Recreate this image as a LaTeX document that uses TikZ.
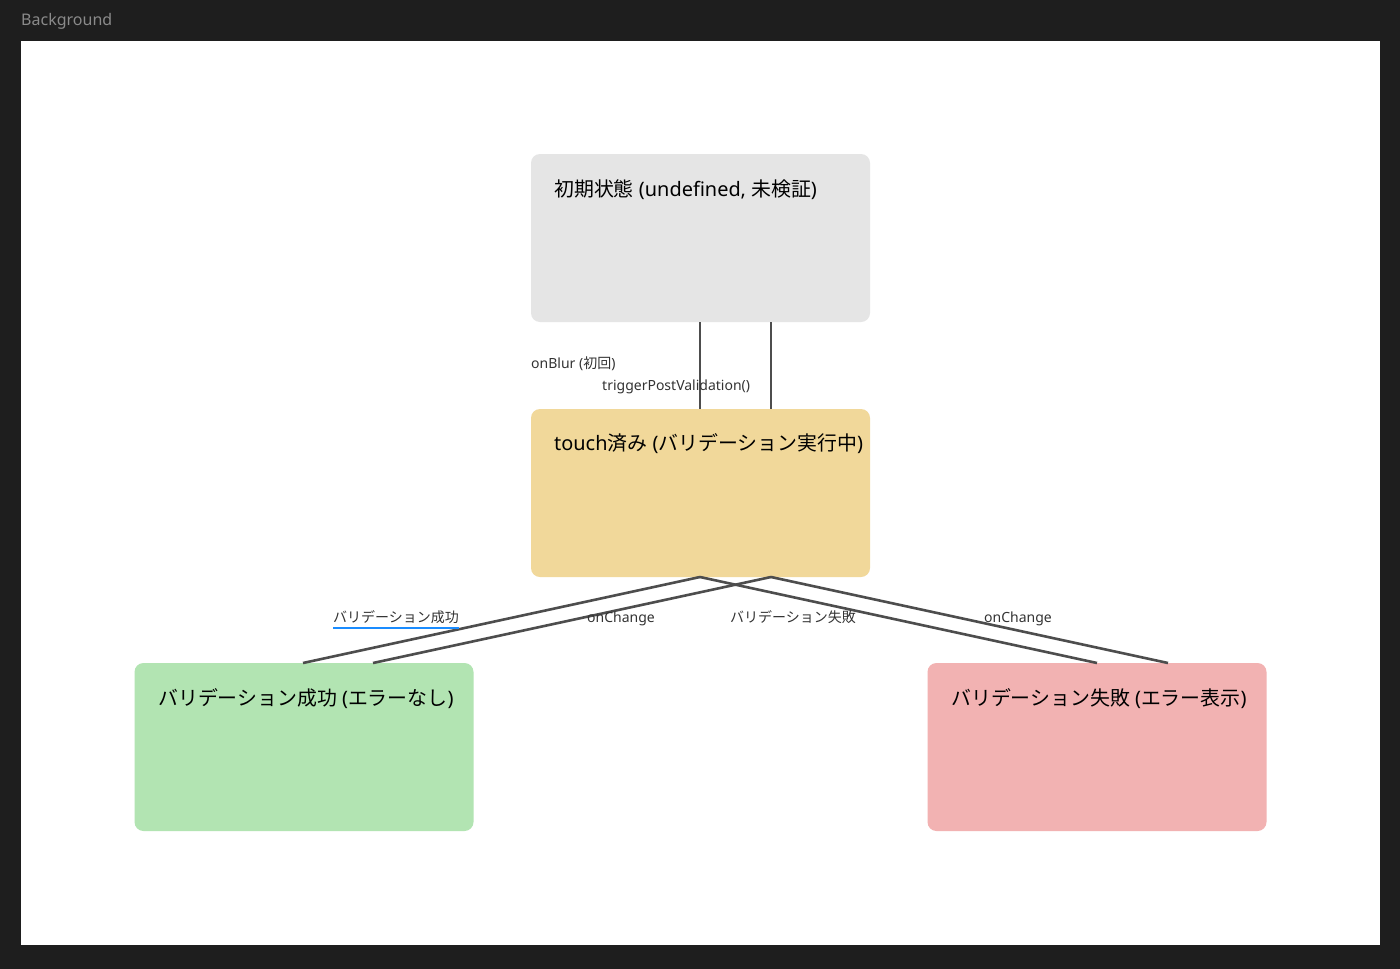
\documentclass[tikz,border=0pt]{standalone}
\usepackage{fontspec}
\setmainfont{Noto Sans}
\newfontfamily\jp{Noto Sans CJK JP}
\usetikzlibrary{calc}
\definecolor{frame}{HTML}{1E1E1E}
\definecolor{frametext}{HTML}{8A8A8A}
\definecolor{edgec}{HTML}{4D4D4D}
\definecolor{greyfill}{HTML}{E5E5E5}
\definecolor{yellowfill}{HTML}{F1D89A}
\definecolor{greenfill}{HTML}{B2E4B2}
\definecolor{redfill}{HTML}{F2B2B2}
\definecolor{linkblue}{HTML}{1A8CFF}
\definecolor{labeltext}{HTML}{333333}
\tikzset{
  statebox/.style={draw=none, rounded corners=9pt, minimum width=339pt, minimum height=168pt, inner sep=0pt, outer sep=0pt},
  statetext/.style={anchor=west, font=\fontsize{19.9}{22}\selectfont, text=black, inner sep=0pt},
  edgelabel/.style={anchor=west, font=\fontsize{14}{15}\selectfont, text=labeltext, inner sep=0pt},
  conn/.style={draw=edgec, line width=2.6pt},
}
\begin{document}
\begin{tikzpicture}[x=1pt,y=-1pt]
\useasboundingbox (0,0) rectangle (1400,969);
\fill[frame] (0,0) rectangle (1400,969);
\node[anchor=west, inner sep=0pt, text=frametext, font=\fontsize{16}{18}\selectfont] (bgtitle) at (21,21) {Background};
\fill[white] (21,41) rectangle (1380,945);

% states
\node[statebox, fill=greyfill] (init) at (700.5,238) {};
\node[statebox, fill=yellowfill] (touch) at (700.5,493) {};
\node[statebox, fill=greenfill] (ok) at (304,747) {};
\node[statebox, fill=redfill] (ng) at (1097,747) {};

\node[statetext] (initT) at (554,190) {{\jp 初期状態} (undefined, {\jp 未検証})};
\node[statetext] (touchT) at (554,444) {touch{\jp 済み} ({\jp バリデーション実行中})};
\node[statetext] (okT) at (158,699) {{\jp バリデーション成功} ({\jp エラーなし})};
\node[statetext] (ngT) at (951,699) {{\jp バリデーション失敗} ({\jp エラー表示})};

% anchor coordinates
\coordinate (initA) at ($(init.south)+(-0.5,0)$);
\coordinate (initB) at ($(init.south)+(70.5,0)$);
\coordinate (touchA) at ($(touch.north)+(-0.5,0)$);
\coordinate (touchB) at ($(touch.north)+(70.5,0)$);
\coordinate (touchC) at ($(touch.south)+(-0.5,0)$);
\coordinate (touchD) at ($(touch.south)+(70.5,0)$);
\coordinate (okA) at ($(ok.north)+(-1,0)$);
\coordinate (okB) at ($(ok.north)+(69,0)$);
\coordinate (ngA) at ($(ng.north)+(0,0)$);
\coordinate (ngB) at ($(ng.north)+(71,0)$);

% connectors
\draw[conn] (initA) -- (touchA);
\draw[conn] (initB) -- (touchB);
\draw[conn] (touchC) -- (okA);
\draw[conn] (touchD) -- (okB);
\draw[conn] (touchC) -- (ngA);
\draw[conn] (touchD) -- (ngB);

% labels
\node[edgelabel] (l1) at (531,364) {onBlur ({\jp 初回})};
\node[edgelabel] (l2) at (602,387) {triggerPostValidation()};
\node[edgelabel, font=\fontsize{14}{15}\jp] (l3) at (333,617.5) {バリデーション成功};
\draw[linkblue, line width=2.5pt] ($(l3.south west)+(0,3.5)$) -- ($(l3.south east)+(0,3.5)$);
\node[edgelabel] (l4) at (587,619) {onChange};
\node[edgelabel, font=\fontsize{14}{15}\jp] (l5) at (730,617.5) {バリデーション失敗};
\node[edgelabel] (l6) at (984,619) {onChange};
\end{tikzpicture}
\end{document}
